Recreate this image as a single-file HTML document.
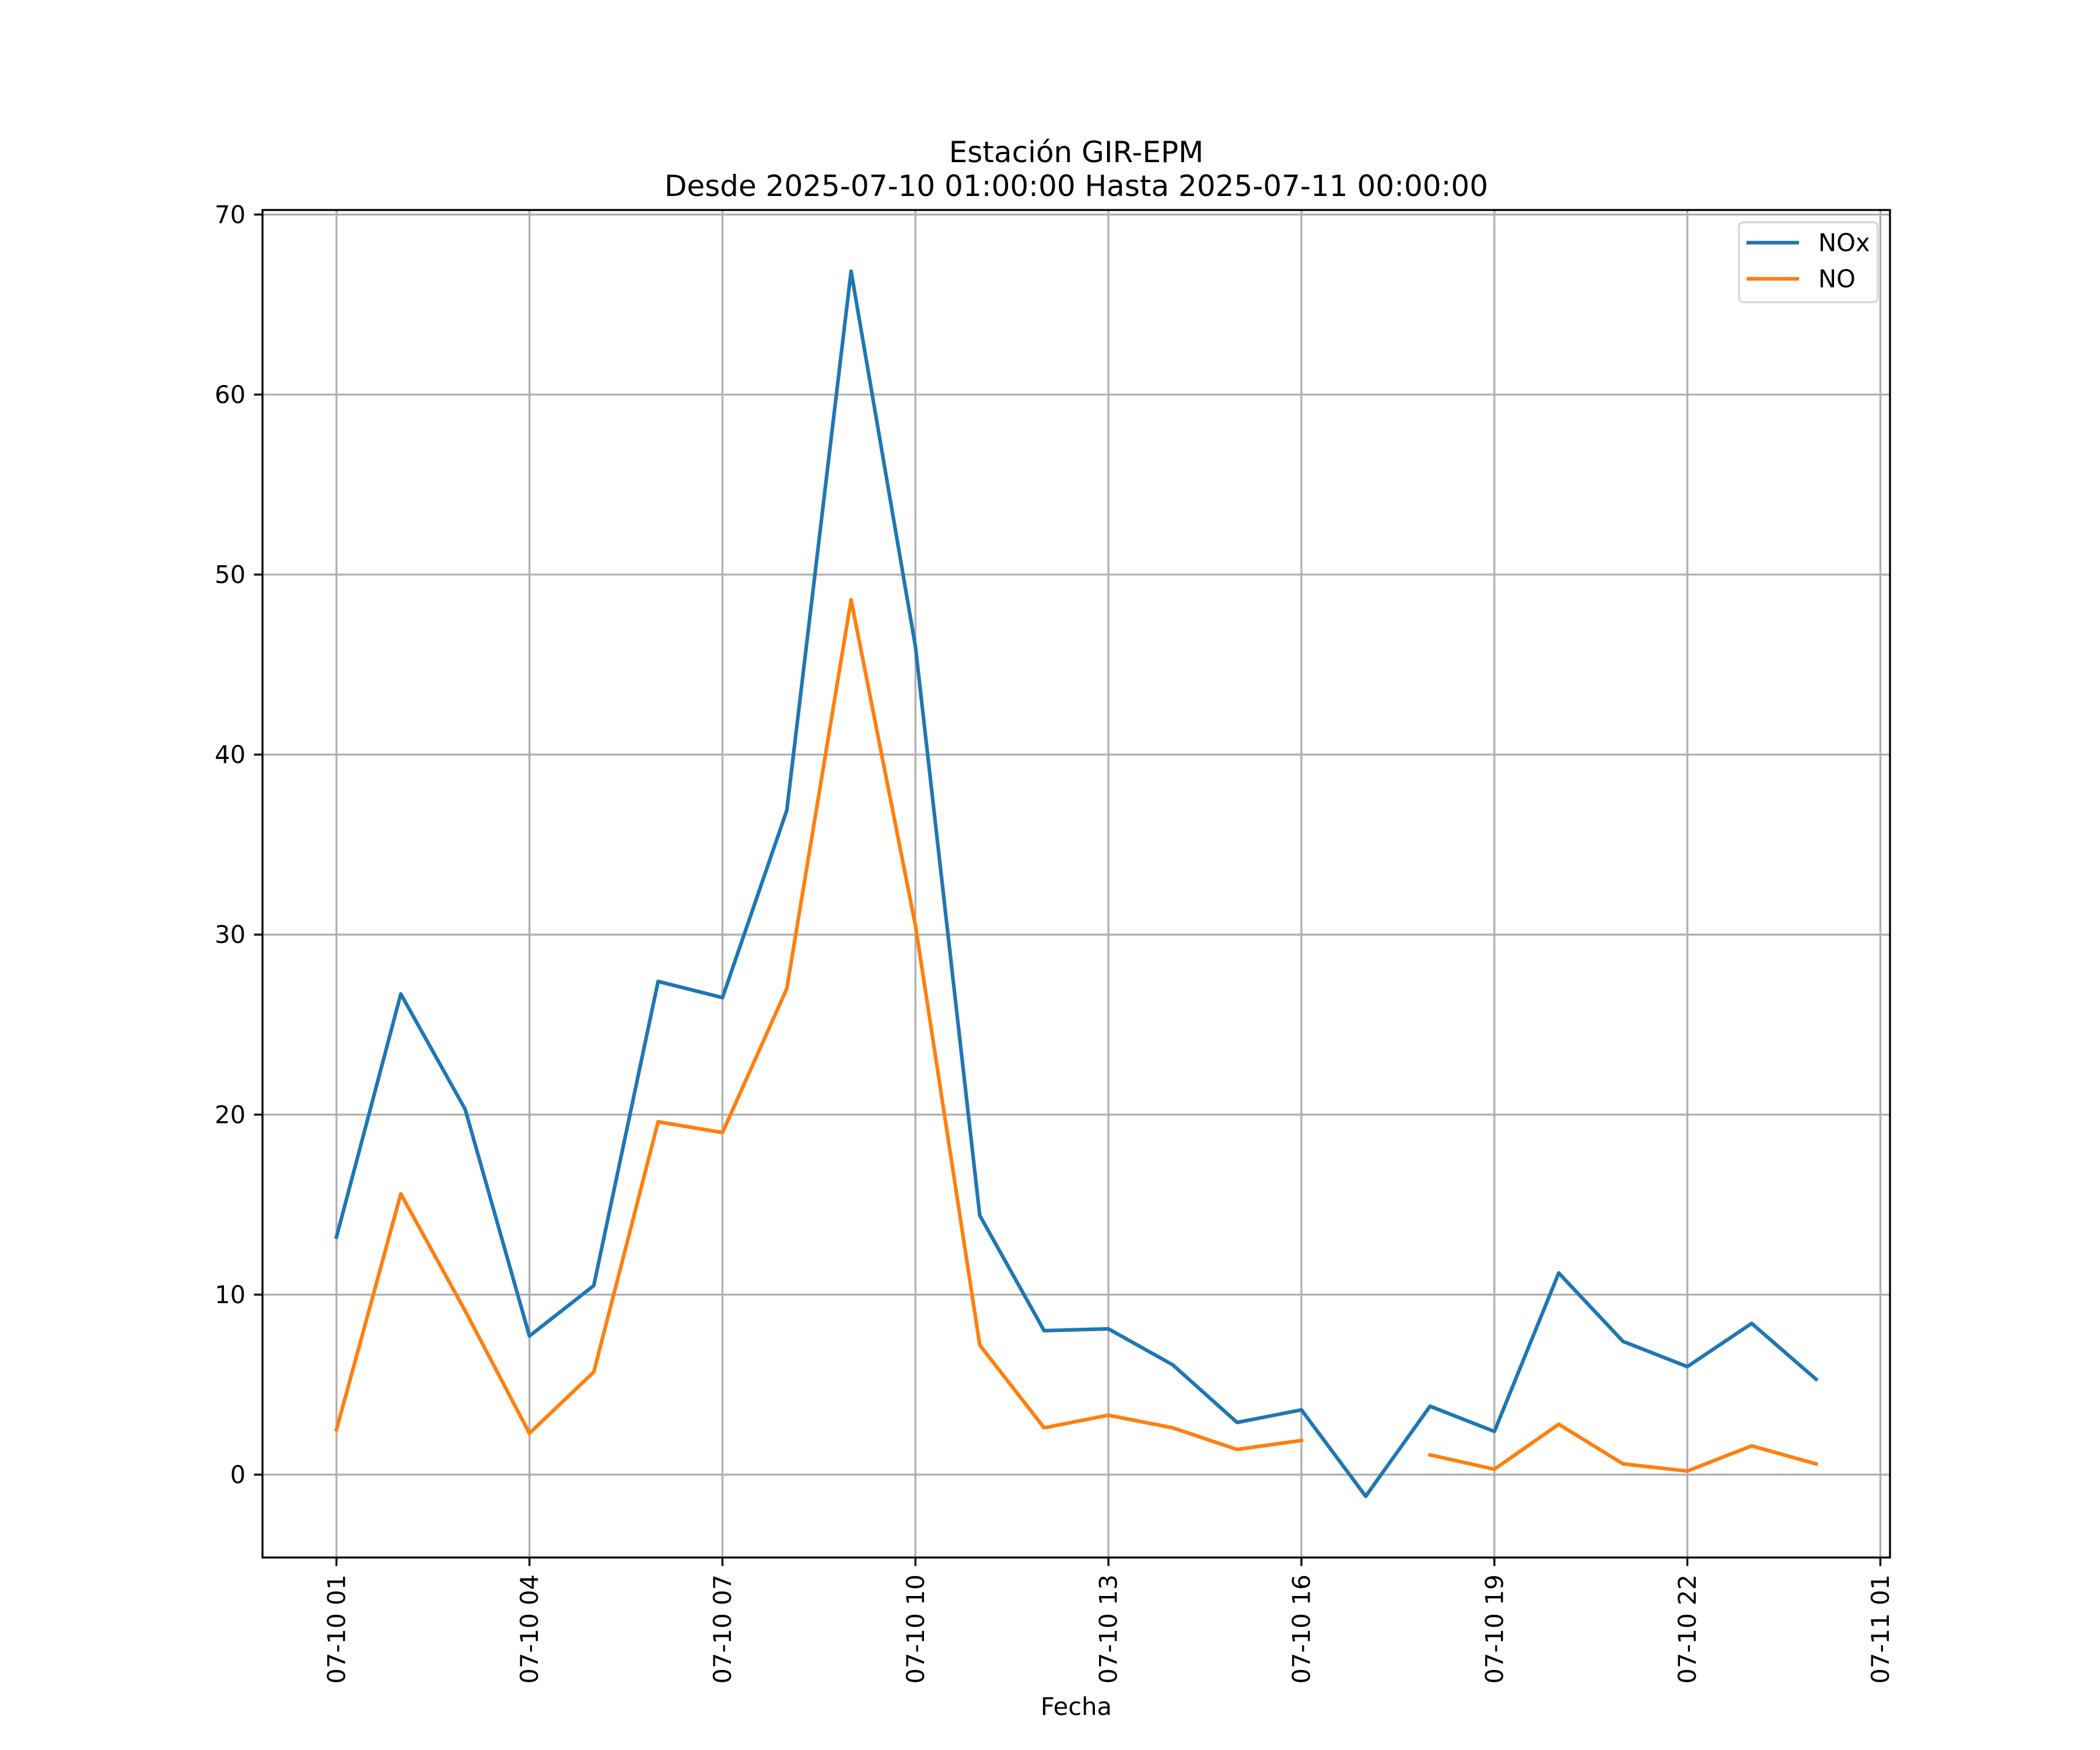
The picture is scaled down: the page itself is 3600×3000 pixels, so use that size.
<!DOCTYPE html>
<html><head><meta charset="utf-8"><style>
html,body{margin:0;padding:0;background:#fff}
svg{display:block;font-family:"DejaVu Sans","Liberation Sans",sans-serif}
</style></head><body>
<svg id="chart" xmlns="http://www.w3.org/2000/svg" width="3600" height="3000" viewBox="0 0 3600 3000">
<rect width="3600" height="3000" fill="#fff"/>
<text x="1845" y="278" font-size="50" text-anchor="middle">Estación GIR-EPM</text>
<text x="1845" y="336" font-size="50" text-anchor="middle">Desde 2025-07-10 01:00:00 Hasta 2025-07-11 00:00:00</text>
<text x="1845" y="2940" font-size="41.7" text-anchor="middle">Fecha</text>
<g id="grid"></g><g id="series"></g><g id="axes"></g><g id="legend"></g>
</svg>
<script>
const hours=[1,2,3,4,5,6,7,8,9,10,11,12,13,14,15,16,17,18,19,20,21,22,23,24];
const noxValues=[13.2,26.7,20.3,7.7,10.5,27.4,26.5,36.9,66.85,46.0,14.4,8.0,8.1,6.1,2.9,3.6,-1.2,3.8,2.4,11.2,7.4,6.0,8.4,5.3];
const noValues=[2.5,15.6,9.1,2.3,5.7,19.6,19.0,27.0,48.6,30.5,7.2,2.6,3.3,2.6,1.4,1.9,null,1.1,0.3,2.8,0.6,0.2,1.6,0.6];
const xTickHours=[1,4,7,10,13,16,19,22,25];
const xTickLabels=["07-10 01","07-10 04","07-10 07","07-10 10","07-10 13","07-10 16","07-10 19","07-10 22","07-11 01"];
const yTicks=[0,10,20,30,40,50,60,70];

const NS="http://www.w3.org/2000/svg";
const L=450,R=3240,T=360,B=2670;
const xmin=hours[0],xmax=hours[hours.length-1],xm=(xmax-xmin)*0.05;
const all=noxValues.concat(noValues).filter(v=>v!==null);
const ymin0=Math.min(...all),ymax0=Math.max(...all),ym=(ymax0-ymin0)*0.05;
const X0=xmin-xm,X1=xmax+xm,Y0=ymin0-ym,Y1=ymax0+ym;
const sx=v=>L+(v-X0)/(X1-X0)*(R-L);
const sy=v=>B-(v-Y0)/(Y1-Y0)*(B-T);
function mk(tag,attrs,parent){const e=document.createElementNS(NS,tag);for(const k in attrs)e.setAttribute(k,attrs[k]);parent.appendChild(e);return e;}
const grid=document.getElementById('grid'),series=document.getElementById('series'),axes=document.getElementById('axes'),legend=document.getElementById('legend');
xTickHours.forEach((h,i)=>{
  const x=sx(h);
  const g=mk('line',{x1:x,x2:x,y1:T,y2:B,stroke:'#b0b0b0','stroke-width':3.33},grid);
  
  
  const t=mk('line',{x1:x,x2:x,y1:B,y2:B+14.6,stroke:'#000','stroke-width':3.33},axes);
  
  
  const tx=mk('text',{x:0,y:0,'font-size':41.7,'text-anchor':'end','dominant-baseline':'central',transform:`translate(${x},${B+29}) rotate(-90)`},axes);
  tx.textContent=xTickLabels[i];
  
  
});
yTicks.forEach(v=>{
  const y=sy(v);
  const g=mk('line',{x1:L,x2:R,y1:y,y2:y,stroke:'#b0b0b0','stroke-width':3.33},grid);
  
  
  const t=mk('line',{x1:L-14.6,x2:L,y1:y,y2:y,stroke:'#000','stroke-width':3.33},axes);
  
  
  const tx=mk('text',{x:L-29,y:y,'font-size':41.7,'text-anchor':'end','dominant-baseline':'central'},axes);
  tx.textContent=String(v);
  
  
});
const frame=mk('rect',{x:L,y:T,width:R-L,height:B-T,fill:'none',stroke:'#000','stroke-width':3.33},axes);


function drawSeries(vals,color,name){
  let d='',pen=false;
  vals.forEach((v,i)=>{if(v===null){pen=false;return;}d+=(pen?'L':'M')+sx(hours[i]).toFixed(1)+' '+sy(v).toFixed(1)+' ';pen=true;});
  const p=mk('path',{d:d,fill:'none',stroke:color,'stroke-width':6.25,'stroke-linejoin':'round','stroke-linecap':'square'},series);
  
  
}
drawSeries(noxValues,'#1f77b4','nox-line');
drawSeries(noValues,'#ff7f0e','no-line');
const box=mk('rect',{x:2981,y:381,width:238,height:137,rx:8,fill:'#fff','fill-opacity':0.8,stroke:'#d6d6d6','stroke-width':3.33},legend);


[['NOx','#1f77b4',416],['NO','#ff7f0e',478]].forEach(([lab,c,y])=>{
  const l=mk('line',{x1:2994,x2:3084,y1:y,y2:y,stroke:c,'stroke-width':6.25},legend);
  
  
  const t=mk('text',{x:3117,y:y,'font-size':41.7,'dominant-baseline':'central'},legend);
  t.textContent=lab;
  
  
});
</script>
</body></html>
